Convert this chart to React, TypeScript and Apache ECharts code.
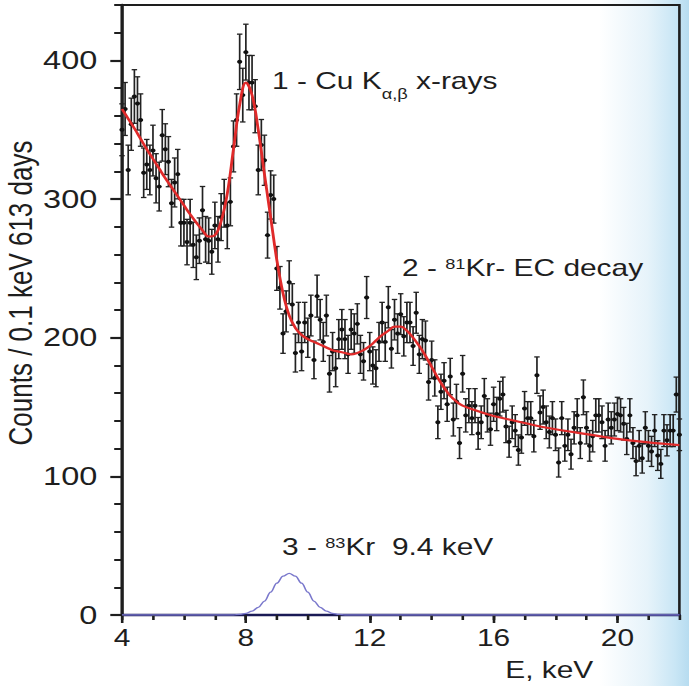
import React, { useEffect, useRef } from "react";
import * as echarts from "echarts";

// Reference figure is stretched horizontally; emulate with a CSS scaleX on the chart box.
const STRETCH = 1.3;
const PAGE_W = 689;
const PAGE_H = 686;
const CHART_W = PAGE_W / STRETCH;

// Spectrum: counts per 0.1 keV bin, starting at 4.0 keV
const energyStart = 4.0;
const binWidth = 0.1;
const counts = [
  350, 365, 321, 354, 374, 369, 357, 319, 325, 321,
  335, 315, 309, 346, 336, 327, 297, 312, 318, 283,
  283, 269, 283, 267, 258, 270, 292, 271, 270, 262,
  281, 271, 287, 297, 281, 298, 338, 357, 399, 375,
  406, 384, 384, 367, 321, 339, 328, 274, 303, 300,
  250, 236, 203, 219, 240, 224, 189, 211, 190, 211,
  200, 216, 184, 230, 213, 197, 216, 174, 190, 178,
  199, 206, 199, 188, 206, 203, 210, 188, 183, 229,
  190, 180, 178, 197, 211, 197, 222, 192, 213, 203,
  217, 201, 211, 211, 194, 218, 188, 199, 198, 168,
  184, 171, 139, 161, 169, 152, 172, 141, 154, 124,
  174, 144, 151, 142, 151, 131, 139, 158, 144, 134,
  152, 145, 156, 159, 136, 125, 139, 133, 119, 128,
  149, 142, 142, 129, 173, 146, 150, 139, 132, 142,
  130, 110, 142, 122, 130, 116, 135, 144, 124, 157,
  135, 122, 129, 144, 144, 139, 122, 141, 135, 141,
  145, 144, 138, 127, 144, 124, 111, 122, 113, 135,
  122, 118, 133, 115, 109, 133, 126, 133, 133, 159,
  130,
];

// Fit curve (red)
const fitEnergy = [
  4.0, 4.2, 4.4, 4.6, 4.8, 5.0, 5.2, 5.4, 5.6, 5.8,
  6.0, 6.2, 6.4, 6.6, 6.8, 7.0, 7.2, 7.4, 7.6, 7.8,
  8.0, 8.2, 8.4, 8.6, 8.8, 9.0, 9.2, 9.4, 9.6, 9.8,
  10.0, 10.2, 10.4, 10.6, 10.8, 11.0, 11.2, 11.4, 11.6, 11.8,
  12.0, 12.2, 12.4, 12.6, 12.8, 13.0, 13.2, 13.4, 13.6, 13.8,
  14.0, 14.2, 14.4, 14.6, 14.8, 15.0, 15.5, 16.0, 16.5, 17.0,
  17.5, 18.0, 19.0, 20.0, 21.0, 22.0,
];
const fitCounts = [
  365, 358, 351, 343.5, 336, 329, 322, 315, 308.5, 302,
  295.5, 289, 283, 277.5, 273, 274, 284, 304, 336, 368,
  384, 375, 350, 318, 287, 256, 232, 216, 207, 202,
  199, 197, 195, 193, 191, 190, 189, 188, 189, 191,
  194, 198, 202, 205, 208, 208, 205, 200, 194, 187,
  179, 171, 164, 158, 154, 151, 147, 143.5, 141, 138.5,
  136, 134, 130.5, 127, 124.5, 122.5,
];

// 83Kr 9.4 keV line (blue)
const krEnergy = [4.0, 7.6, 7.8, 8.0, 8.2, 8.4, 8.6, 8.8, 9.0, 9.2, 9.4, 9.6, 9.8, 10.0, 10.2, 10.4, 10.6, 10.8, 11.0, 11.2, 22.0];
const krCounts = [0, 0, 0.4, 1.2, 2.8, 5.5, 10, 16.5, 23, 28, 30, 28, 23, 16.5, 10, 5.5, 2.8, 1.2, 0.4, 0, 0];

const xLabelTicks = [4, 8, 12, 16, 20];
const yLabelTicks = [0, 100, 200, 300, 400];

const FONT = "'Liberation Sans', Arial, sans-serif";
const INK = "#1e1e1e";

export default function App() {
  const ref = useRef<HTMLDivElement>(null);

  useEffect(() => {
    if (!ref.current) return;
    const chart = echarts.init(ref.current, undefined, { renderer: "svg" });

    const points = counts.map((c, i) => [
      Math.round((energyStart + i * binWidth) * 10) / 10,
      c,
      Math.sqrt(c),
    ]);
    const fit = fitEnergy.map((e, i) => [e, fitCounts[i]]);
    const kr = krEnergy.map((e, i) => [e, krCounts[i]]);

    const xAxisBase = {
      type: "value",
      min: 4,
      max: 22,
      gridIndex: 0,
      position: "bottom",
      splitLine: { show: false },
    };
    const yAxisBase = {
      type: "value",
      min: 0,
      max: 440,
      gridIndex: 0,
      position: "left",
      splitLine: { show: false },
    };

    chart.setOption({
      animation: false,
      backgroundColor: "transparent",
      grid: {
        left: 122 / STRETCH,
        right: CHART_W - 679.4 / STRETCH,
        top: 5,
        bottom: PAGE_H - 615,
        containLabel: false,
        outerBoundsMode: "none",
        show: true,
        borderColor: INK,
        borderWidth: 2,
        backgroundColor: "transparent",
      },
      xAxis: [
        {
          ...xAxisBase,
          interval: 1,
          axisLine: { show: true, onZero: false, lineStyle: { color: "#1a1a55", width: 2.4 } },
          axisTick: { show: true, inside: false, length: 5, lineStyle: { color: INK, width: 2 } },
          axisLabel: {
            show: true,
            margin: 12,
            color: INK,
            fontFamily: FONT,
            fontSize: 23,
            formatter: (v: number) => (xLabelTicks.includes(v) ? String(v) : ""),
          },
          name: "E, keV",
          nameLocation: "end",
          nameGap: -134,
          nameMoveOverlap: false,
          nameTextStyle: {
            color: INK,
            fontFamily: FONT,
            fontSize: 23,
            verticalAlign: "top",
            align: "left",
            padding: [44, 0, 0, 0],
          },
        },
        {
          ...xAxisBase,
          interval: 4,
          axisLine: { show: false },
          axisTick: { show: true, inside: false, length: 8, customValues: xLabelTicks, lineStyle: { color: INK, width: 2 } },
          axisLabel: { show: false },
        },
      ],
      yAxis: [
        {
          ...yAxisBase,
          interval: 20,
          axisLine: { show: true, onZero: false, lineStyle: { color: INK, width: 2.4 } },
          axisTick: { show: true, inside: false, length: 6, lineStyle: { color: INK, width: 2 } },
          axisLabel: {
            show: true,
            margin: 19,
            color: INK,
            fontFamily: FONT,
            fontSize: 25,
            formatter: (v: number) => (yLabelTicks.includes(v) ? String(v) : ""),
          },
          name: "Counts / 0.1 keV 613 days",
          nameLocation: "middle",
          nameGap: 65,
          nameMoveOverlap: false,
          nameTextStyle: {
            color: INK,
            fontFamily: FONT,
            fontSize: 26,
            padding: [0, 0, 0, 34],
          },
        },
        {
          ...yAxisBase,
          interval: 100,
          axisLine: { show: false },
          axisTick: { show: true, inside: false, length: 9, customValues: yLabelTicks, lineStyle: { color: INK, width: 2.2 } },
          axisLabel: { show: false },
        },
      ],
      series: [
        {
          type: "custom",
          name: "data",
          xAxisIndex: 0,
          yAxisIndex: 0,
          data: points,
          encode: { x: 0, y: 1 },
          clip: false,
          z: 2,
          renderItem: (params: any, api: any) => {
            const x = api.value(0);
            const y = api.value(1);
            const err = api.value(2);
            const top = api.coord([x, y + err]);
            const bot = api.coord([x, y - err]);
            const c = api.coord([x, y]);
            const hw = 2.1;
            const st = { stroke: "#222222", lineWidth: 1.3 };
            return {
              type: "group",
              children: [
                { type: "line", shape: { x1: top[0], y1: top[1], x2: bot[0], y2: bot[1] }, style: st },
                { type: "line", shape: { x1: top[0] - hw, y1: top[1], x2: top[0] + hw, y2: top[1] }, style: st },
                { type: "line", shape: { x1: bot[0] - hw, y1: bot[1], x2: bot[0] + hw, y2: bot[1] }, style: st },
                { type: "circle", shape: { cx: c[0], cy: c[1], r: 2.0 }, style: { fill: "#111" } },
              ],
            };
          },
        },
        {
          type: "line",
          name: "fit",
          xAxisIndex: 0,
          yAxisIndex: 0,
          data: fit,
          smooth: 0.4,
          showSymbol: false,
          symbol: "none",
          lineStyle: { color: "#e02a2a", width: 2.2 },
          z: 4,
        },
        {
          type: "line",
          name: "83Kr",
          xAxisIndex: 0,
          yAxisIndex: 0,
          data: kr,
          smooth: 0.4,
          smoothMonotone: "x",
          showSymbol: false,
          symbol: "none",
          lineStyle: { color: "#7a78cc", width: 1.3 },
          z: 3,
        },
      ],
      graphic: [
        {
          type: "text",
          left: 272 / STRETCH,
          top: 70,
          style: {
            text: "1 - Cu K{sub|α,β} x-rays",
            fill: INK,
            font: `23px ${FONT}`,
            rich: {
              sub: { fontSize: 14, fontFamily: FONT, fill: INK, verticalAlign: "bottom", padding: [0, 0, -8, 0] },
            },
          },
        },
        {
          type: "text",
          left: 402 / STRETCH,
          top: 257,
          style: {
            text: "2 - {sup|81}Kr- EC decay",
            fill: INK,
            font: `23px ${FONT}`,
            rich: {
              sup: { fontSize: 14, fontFamily: FONT, fill: INK, verticalAlign: "top" },
            },
          },
        },
        {
          type: "text",
          left: 282 / STRETCH,
          top: 536,
          style: {
            text: "3 - {sup|83}Kr  9.4 keV",
            fill: INK,
            font: `23px ${FONT}`,
            rich: {
              sup: { fontSize: 14, fontFamily: FONT, fill: INK, verticalAlign: "top" },
            },
          },
        },
      ],
    });

    return () => chart.dispose();
  }, []);

  return (
    <div
      style={{
        position: "fixed",
        left: 0,
        top: 0,
        width: PAGE_W,
        height: PAGE_H,
        overflow: "hidden",
        background:
          "linear-gradient(to right, #ffffff 0%, #ffffff 87%, #e6f3fa 94%, #c9e6f5 98%, #b7dcf0 100%)",
      }}
    >
      <div
        ref={ref}
        style={{
          width: CHART_W,
          height: PAGE_H,
          transform: `scaleX(${STRETCH})`,
          transformOrigin: "0 0",
        }}
      />
    </div>
  );
}
